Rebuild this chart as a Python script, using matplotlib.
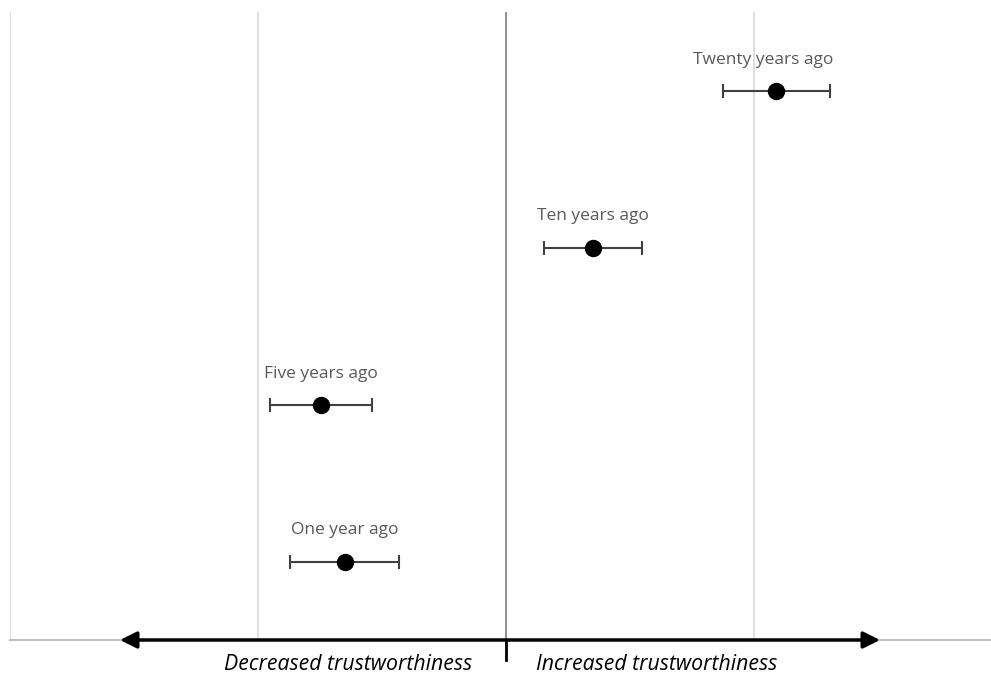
import numpy as np
import matplotlib.pyplot as plt

labels = ['Twenty years ago', 'Ten years ago', 'Five years ago', 'One year ago']
x_vals = [1.09, 0.35, -0.745, -0.65]
x_err = [0.215, 0.198, 0.205, 0.22]
y_vals = [3.5, 2.5, 1.5, 0.5]
label_shift = [-13, 0, 0, 0]  # pixels

plt.rcParams['font.family'] = ['Open Sans', 'DejaVu Sans']

fig = plt.figure(figsize=(9.91, 6.75), dpi=100)
ax = fig.add_axes([10/991, 1 - 640/675, 1 - 10/991, (640 - 12)/675])
ax.set_xlim(-2, 485/248)
ax.set_ylim(0, 4)

for gx in [-2, -1, 1]:
	ax.axvline(gx, color='#d9d9d9', lw=1.2, zorder=0)
ax.axvline(0, color='#868686', lw=1.3, zorder=1)

for s in ax.spines.values():
	s.set_visible(False)
ax.axhline(0, color='#bfbfbf', lw=1.5, zorder=1, clip_on=False)
ax.set_xticks([])
ax.set_yticks([])

ax.errorbar(x_vals, y_vals, xerr=x_err, fmt='o', color='black', ms=11.5,
	ecolor='#404040', elinewidth=1.5, capsize=5, capthick=1.5, zorder=3)

for xv, yv, lab, dx in zip(x_vals, y_vals, labels, label_shift):
	ax.annotate(lab, (xv, yv), xytext=(dx, 31), textcoords='offset pixels',
		ha='center', va='center', fontsize=12.5, color='#595959')

# double-headed arrow along the bottom
ax.annotate('', xy=(120/991, 1 - 640/675), xytext=(880/991, 1 - 640/675),
	xycoords='figure fraction', textcoords='figure fraction',
	arrowprops=dict(arrowstyle='<|-|>', color='black', lw=2.5,
		mutation_scale=25, shrinkA=0, shrinkB=0))
ax.plot([0, 0], [0, -0.13], color='black', lw=2, clip_on=False, zorder=4)

fig.text(348/991, 1 - 665/675, 'Decreased trustworthiness', ha='center', va='center',
	fontsize=15.3, style='italic', color='black')
fig.text(657/991, 1 - 665/675, 'Increased trustworthiness', ha='center', va='center',
	fontsize=15.3, style='italic', color='black')

plt.savefig('out.png', dpi=100)
